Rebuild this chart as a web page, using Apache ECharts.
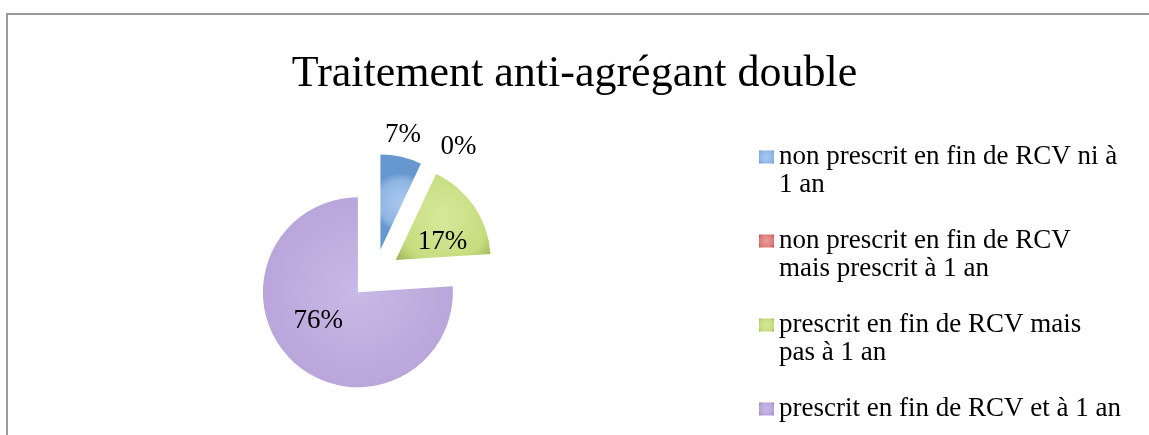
<!DOCTYPE html>
<html>
<head>
<meta charset="utf-8">
<script src="https://cdn.jsdelivr.net/npm/echarts@6/dist/echarts.min.js"></script>
<style>
html,body{margin:0;padding:0;background:#fff;}
#chart{width:1149px;height:435px;}
</style>
</head>
<body>
<div id="chart"></div>
<script>
// ---- data ----
const chartTitle = 'Traitement anti-agrégant double';
const categories = [
  'non prescrit en fin de RCV ni à 1 an',
  'non prescrit en fin de RCV mais prescrit à 1 an',
  'prescrit en fin de RCV mais pas à 1 an',
  'prescrit en fin de RCV et à 1 an'
];
const legendLabels = [
  'non prescrit en fin de RCV ni à\n1 an',
  'non prescrit en fin de RCV\nmais prescrit à 1 an',
  'prescrit en fin de RCV mais\npas à 1 an',
  'prescrit en fin de RCV et à 1 an'
];
const values = [7, 0, 17, 76];

// ---- style ----
const FONT = '"Liberation Serif", "DejaVu Serif", serif';
const baseColors = [
  ['#A9C8EF', '#8FB5E3', '#6797CF'],
  ['#EC9C9A', '#DA7B78', '#B8504D'],
  ['#D6E99A', '#C5DC7E', '#9DB958'],
  ['#C9B9E6', '#B8A4D9', '#957EBD']
];
const labelPos = ['outside', 'outside', 'inside', 'inside'];
const labelDx = [-26, 0, 5, -5];
const labelDy = [-1, 1, 10, -8];

function grad(c) {
  return {
    type: 'radial', x: 0.5, y: 0.5, r: 0.72,
    colorStops: [
      { offset: 0, color: c[0] },
      { offset: 0.75, color: c[1] },
      { offset: 1, color: c[2] }
    ]
  };
}

const chart = echarts.init(document.getElementById('chart'), null, { renderer: 'canvas' });

const pieData = categories.map((name, i) => ({
  name: name,
  value: values[i],
  selected: true,
  itemStyle: { color: grad(baseColors[i]) },
  label: { position: labelPos[i] }
}));

const legendData = categories.map((name, i) => ({
  name: name,
  itemStyle: { color: grad(baseColors[i]) }
}));

chart.setOption({
  backgroundColor: '#ffffff',
  animation: false,
  graphic: [{
    type: 'rect',
    shape: { x: 7, y: 14, width: 1200, height: 500 },
    style: { fill: 'none', stroke: '#9a9a9a', lineWidth: 2 },
    silent: true
  }],
  title: {
    text: chartTitle,
    left: 'center',
    top: 47,
    textStyle: { fontFamily: FONT, fontSize: 44, fontWeight: 'normal', color: '#000' }
  },
  legend: {
    orient: 'vertical',
    left: 759,
    top: 115,
    height: 600,
    padding: 0,
    itemGap: 0,
    itemWidth: 15,
    itemHeight: 13,
    icon: 'rect',
    selectedMode: false,
    data: legendData,
    formatter: function (name) {
      const txt = legendLabels[categories.indexOf(name)];
      // blank lines keep the icon level with the first text line
      return '\n' + txt + (txt.indexOf('\n') < 0 ? '\n' : '');
    },
    textStyle: { fontFamily: FONT, fontSize: 27, lineHeight: 28, color: '#000' }
  },
  series: [{
    type: 'pie',
    center: [375, 274],
    radius: 95,
    startAngle: 90,
    clockwise: true,
    selectedMode: 'multiple',
    selectedOffset: 25,
    avoidLabelOverlap: false,
    emphasis: { disabled: true },
    label: {
      show: true,
      formatter: function (p) { return p.value + '%'; },
      fontFamily: FONT,
      fontSize: 27,
      color: '#000'
    },
    labelLine: { show: false, length: 22, length2: 0 },
    labelLayout: function (p) {
      return { dx: labelDx[p.dataIndex], dy: labelDy[p.dataIndex] };
    },
    itemStyle: { borderWidth: 0 },
    data: pieData
  }]
});
</script>
</body>
</html>
